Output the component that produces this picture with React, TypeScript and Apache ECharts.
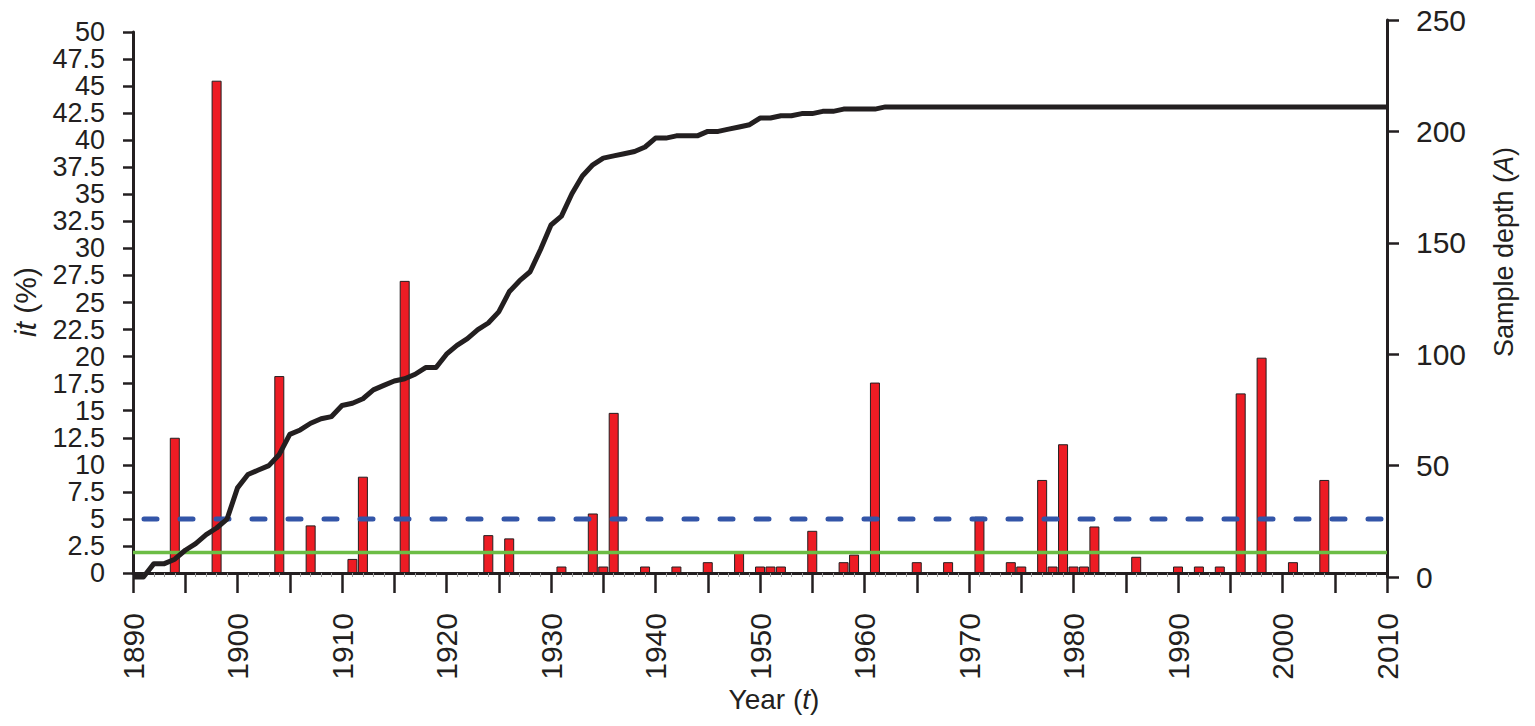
import React, { useEffect, useRef } from 'react';
import * as echarts from 'echarts';

// Years with a non-zero index value it (%)
const barYears = [1894, 1898, 1904, 1907, 1911, 1912, 1916, 1924, 1926, 1931, 1934, 1935, 1936, 1939, 1942, 1945, 1948, 1950, 1951, 1952, 1955, 1958, 1959, 1961, 1965, 1968, 1971, 1974, 1975, 1977, 1978, 1979, 1980, 1981, 1982, 1986, 1990, 1992, 1994, 1996, 1998, 2001, 2004];
const barValues = [12.5, 45.5, 18.2, 4.4, 1.3, 8.9, 27.0, 3.5, 3.2, 0.6, 5.5, 0.6, 14.8, 0.6, 0.6, 1.0, 2.0, 0.6, 0.6, 0.6, 3.9, 1.0, 1.7, 17.6, 1.0, 1.0, 5.2, 1.0, 0.6, 8.6, 0.6, 11.9, 0.6, 0.6, 4.3, 1.5, 0.6, 0.6, 0.6, 16.6, 19.9, 1.0, 8.6];

// Sample depth (A), one value per year from 1890 to 2010
const depthStartYear = 1890;
const sampleDepth = [
  0, 0, 6, 6, 8, 12, 15, 19, 22, 26,            // 1890-1899
  40, 46, 48, 50, 55, 64, 66, 69, 71, 72,       // 1900-1909
  77, 78, 80, 84, 86, 88, 89, 91, 94, 94,       // 1910-1919
  100, 104, 107, 111, 114, 119, 128, 133, 137, 147, // 1920-1929
  158, 162, 172, 180, 185, 188, 189, 190, 191, 193, // 1930-1939
  197, 197, 198, 198, 198, 200, 200, 201, 202, 203, // 1940-1949
  206, 206, 207, 207, 208, 208, 209, 209, 210, 210, // 1950-1959
  210, 210, 211, 211, 211, 211, 211, 211, 211, 211, // 1960-1969
  211, 211, 211, 211, 211, 211, 211, 211, 211, 211, // 1970-1979
  211, 211, 211, 211, 211, 211, 211, 211, 211, 211, // 1980-1989
  211, 211, 211, 211, 211, 211, 211, 211, 211, 211, // 1990-1999
  211, 211, 211, 211, 211, 211, 211, 211, 211, 211, // 2000-2009
  211,                                           // 2010
];

// Threshold lines (it %)
const thresholdDashed = 5;
const thresholdSolid = 1.9;
const xMin = 1890;
const xMax = 2010;

const FONT = 'Liberation Sans, Arial, sans-serif';
const INK = '#231f20';

export default function App() {
  const ref = useRef<HTMLDivElement>(null);

  useEffect(() => {
    if (!ref.current) return;
    const chart = echarts.init(ref.current, undefined, { renderer: 'svg' });

    const bars = barYears.map((y, i) => [y, barValues[i]]);
    const depth = sampleDepth.map((v, i) => [depthStartYear + i, v]);

    const option = {
      animation: false,
      backgroundColor: '#ffffff',
      grid: [
        { left: 133, right: 148, top: 32, bottom: 153 },
        { left: 133, right: 148, top: 20, bottom: 149 },
      ],
      xAxis: [
        {
          gridIndex: 0,
          type: 'value',
          min: xMin,
          max: xMax,
          interval: 5,
          axisLine: { show: true, onZero: false, lineStyle: { color: INK, width: 3 } },
          axisTick: { show: true, length: 20, lineStyle: { color: INK, width: 2.5 } },
          minorTick: { show: true, splitNumber: 5, length: 4, lineStyle: { color: '#9a9a9a', width: 1 } },
          splitLine: { show: false },
          axisLabel: {
            rotate: 90,
            margin: 40,
            fontSize: 30,
            fontFamily: FONT,
            color: INK,
            formatter: (v: number) => (v % 10 === 0 ? String(v) : ''),
          },
        },
        {
          gridIndex: 1,
          type: 'value',
          min: xMin,
          max: xMax,
          show: false,
        },
      ],
      yAxis: [
        {
          gridIndex: 0,
          type: 'value',
          min: 0,
          max: 50,
          interval: 2.5,
          axisLine: { show: true, lineStyle: { color: INK, width: 3 } },
          axisTick: { show: true, length: 10, lineStyle: { color: INK, width: 2.5 } },
          splitLine: { show: false },
          axisLabel: { fontSize: 27, fontFamily: FONT, color: INK, margin: 28 },
        },
        {
          gridIndex: 1,
          type: 'value',
          position: 'right',
          min: 0,
          max: 250,
          interval: 50,
          axisLine: { show: true, lineStyle: { color: INK, width: 3 } },
          axisTick: { show: true, length: 12, lineStyle: { color: INK, width: 2.5 } },
          splitLine: { show: false },
          axisLabel: { fontSize: 30, fontFamily: FONT, color: INK, margin: 29 },
        },
      ],
      series: [
        {
          type: 'bar',
          xAxisIndex: 0,
          yAxisIndex: 0,
          data: bars,
          barWidth: 10,
          z: 2,
          itemStyle: { color: '#ed1c24', borderColor: INK, borderWidth: 1 },
        },
        {
          type: 'line',
          xAxisIndex: 0,
          yAxisIndex: 0,
          data: [[xMin, thresholdSolid], [xMax, thresholdSolid]],
          showSymbol: false,
          z: 3,
          lineStyle: { color: '#6cbd45', width: 3.5 },
        },
        {
          type: 'line',
          xAxisIndex: 0,
          yAxisIndex: 0,
          data: [[xMin, thresholdDashed], [xMax, thresholdDashed]],
          showSymbol: false,
          z: 4,
          lineStyle: { color: '#3355a8', width: 5, type: [13, 23], dashOffset: 24.5, cap: 'round' },
        },
        {
          type: 'line',
          xAxisIndex: 1,
          yAxisIndex: 1,
          data: depth,
          showSymbol: false,
          z: 5,
          clip: false,
          lineStyle: { color: INK, width: 5, join: 'round' },
        },
      ],
      graphic: [
        {
          type: 'text',
          x: 25,
          y: 302,
          rotation: Math.PI / 2,
          style: {
            text: '{i|it} (%)',
            fontSize: 30,
            fontFamily: FONT,
            fill: INK,
            align: 'center',
            verticalAlign: 'middle',
            rich: { i: { fontStyle: 'italic', fontSize: 30, fontFamily: FONT, fill: INK } },
          },
        },
        {
          type: 'text',
          x: 1504,
          y: 252,
          rotation: Math.PI / 2,
          style: {
            text: 'Sample depth ({i|A})',
            fontSize: 27,
            fontFamily: FONT,
            fill: INK,
            align: 'center',
            verticalAlign: 'middle',
            rich: { i: { fontStyle: 'italic', fontSize: 27, fontFamily: FONT, fill: INK } },
          },
        },
        {
          type: 'text',
          x: 774,
          y: 699,
          style: {
            text: 'Year ({i|t})',
            fontSize: 28,
            fontFamily: FONT,
            fill: INK,
            align: 'center',
            verticalAlign: 'middle',
            rich: { i: { fontStyle: 'italic', fontSize: 28, fontFamily: FONT, fill: INK } },
          },
        },
      ],
    };

    chart.setOption(option as any);
    return () => chart.dispose();
  }, []);

  return (
    <div
      ref={ref}
      style={{ position: 'fixed', left: 0, top: 0, width: 1535, height: 726, background: '#fff' }}
    />
  );
}
